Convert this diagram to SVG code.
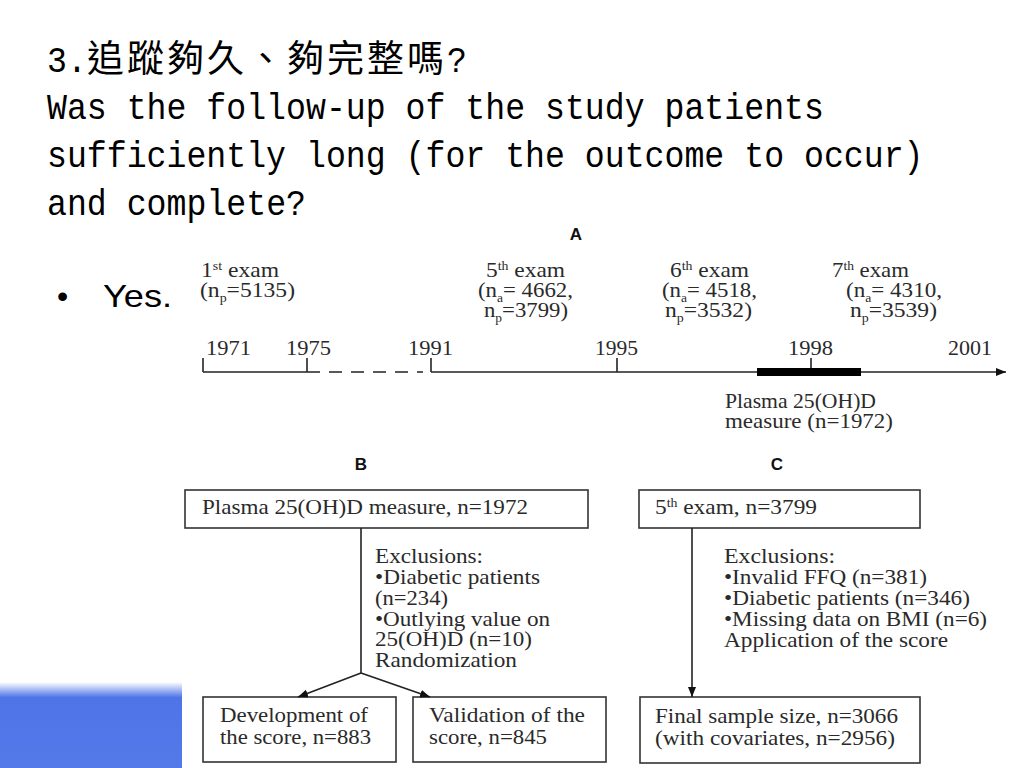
<svg xmlns="http://www.w3.org/2000/svg" width="1024" height="768" viewBox="0 0 1024 768">
<defs>
<linearGradient id="blueFade" x1="0" y1="682" x2="0" y2="768" gradientUnits="userSpaceOnUse">
<stop offset="0" stop-color="#ffffff"/>
<stop offset="0.18" stop-color="#4f74e8"/>
<stop offset="1" stop-color="#5479e8"/>
</linearGradient>
<marker id="arr" viewBox="0 0 10 8" refX="10" refY="4" markerWidth="10" markerHeight="8" markerUnits="userSpaceOnUse" orient="auto">
<path d="M0,0 L10,4 L0,8 Z" fill="#111"/>
</marker>
<style>
.mono{font-family:"Liberation Mono","DejaVu Sans Mono",monospace;font-size:36px;fill:#000}
.cjk{font-family:"Noto Sans CJK TC","Noto Sans CJK SC",sans-serif;font-size:37px;fill:#000}
.fig{font-family:"Liberation Serif","Times New Roman",serif;font-size:22px;fill:#2a2a2a}
.lab{font-family:"Liberation Sans",Arial,sans-serif;font-size:17px;font-weight:bold;fill:#111;text-anchor:middle}
.sup{font-size:13px}
.box{fill:#fff;stroke:#333;stroke-width:1.6}
.ln{stroke:#222;stroke-width:1.6;fill:none}
</style>
</defs>
<rect width="1024" height="768" fill="#fff"/>
<rect id="blue-bar" x="0" y="682" width="182" height="86" fill="url(#blueFade)"/>

<g id="title">
<text class="mono" x="47" y="72" textLength="39.8" lengthAdjust="spacingAndGlyphs">3.</text>
<text class="cjk" x="87" y="72" letter-spacing="3">追蹤夠久、夠完整嗎</text>
<text class="mono" x="447" y="72" textLength="19.9" lengthAdjust="spacingAndGlyphs">?</text>
<text class="mono" x="47" y="119" textLength="776.9" lengthAdjust="spacingAndGlyphs">Was the follow-up of the study patients</text>
<text class="mono" x="47" y="167" textLength="876.5" lengthAdjust="spacingAndGlyphs">sufficiently long (for the outcome to occur)</text>
<text class="mono" x="47" y="215" textLength="259" lengthAdjust="spacingAndGlyphs">and complete?</text>
</g>

<g id="bullet">
<text x="57" y="307" font-family="Liberation Sans, Arial, sans-serif" font-size="32" fill="#000">•</text>
<text x="103" y="307" font-family="Liberation Sans, Arial, sans-serif" font-size="32" fill="#000" textLength="69" lengthAdjust="spacingAndGlyphs">Yes.</text>
</g>

<g id="panel-A">
<text class="lab" x="576" y="240">A</text>
<g id="exam1">
<text class="fig" x="201" y="277" textLength="78" lengthAdjust="spacingAndGlyphs">1<tspan class="sup" dy="-7">st</tspan><tspan dy="7"> exam</tspan></text>
<text class="fig" x="200" y="297" textLength="95" lengthAdjust="spacingAndGlyphs">(n<tspan class="sup" dy="5">p</tspan><tspan dy="-5">=5135)</tspan></text>
</g>
<g id="exam5">
<text class="fig" x="486" y="277" textLength="79" lengthAdjust="spacingAndGlyphs">5<tspan class="sup" dy="-7">th</tspan><tspan dy="7"> exam</tspan></text>
<text class="fig" x="478" y="297" textLength="95" lengthAdjust="spacingAndGlyphs">(n<tspan class="sup" dy="5">a</tspan><tspan dy="-5">= 4662,</tspan></text>
<text class="fig" x="484" y="317" textLength="84" lengthAdjust="spacingAndGlyphs">n<tspan class="sup" dy="5">p</tspan><tspan dy="-5">=3799)</tspan></text>
</g>
<g id="exam6">
<text class="fig" x="670" y="277" textLength="79" lengthAdjust="spacingAndGlyphs">6<tspan class="sup" dy="-7">th</tspan><tspan dy="7"> exam</tspan></text>
<text class="fig" x="662" y="297" textLength="95" lengthAdjust="spacingAndGlyphs">(n<tspan class="sup" dy="5">a</tspan><tspan dy="-5">= 4518,</tspan></text>
<text class="fig" x="665" y="317" textLength="87" lengthAdjust="spacingAndGlyphs">n<tspan class="sup" dy="5">p</tspan><tspan dy="-5">=3532)</tspan></text>
</g>
<g id="exam7">
<text class="fig" x="832" y="277" textLength="77" lengthAdjust="spacingAndGlyphs">7<tspan class="sup" dy="-7">th</tspan><tspan dy="7"> exam</tspan></text>
<text class="fig" x="846" y="297" textLength="96" lengthAdjust="spacingAndGlyphs">(n<tspan class="sup" dy="5">a</tspan><tspan dy="-5">= 4310,</tspan></text>
<text class="fig" x="850" y="317" textLength="87" lengthAdjust="spacingAndGlyphs">n<tspan class="sup" dy="5">p</tspan><tspan dy="-5">=3539)</tspan></text>
</g>
<g id="years">
<text class="fig" x="206" y="355" textLength="45" lengthAdjust="spacingAndGlyphs">1971</text>
<text class="fig" x="286" y="355" textLength="45" lengthAdjust="spacingAndGlyphs">1975</text>
<text class="fig" x="408" y="355" textLength="45" lengthAdjust="spacingAndGlyphs">1991</text>
<text class="fig" x="595" y="355" textLength="43" lengthAdjust="spacingAndGlyphs">1995</text>
<text class="fig" x="788" y="355" textLength="45" lengthAdjust="spacingAndGlyphs">1998</text>
<text class="fig" x="948" y="355" textLength="44" lengthAdjust="spacingAndGlyphs">2001</text>
</g>
<g id="timeline">
<line class="ln" x1="203" y1="372" x2="307" y2="372"/>
<line class="ln" x1="307" y1="372" x2="423" y2="372" stroke-dasharray="13 9"/>
<line class="ln" x1="431" y1="372" x2="1006" y2="372" marker-end="url(#arr)"/>
<line class="ln" x1="203" y1="358" x2="203" y2="372"/>
<line class="ln" x1="307" y1="358" x2="307" y2="372"/>
<line class="ln" x1="431" y1="358" x2="431" y2="372"/>
<line class="ln" x1="617" y1="358" x2="617" y2="372"/>
<line class="ln" x1="811" y1="358" x2="811" y2="372"/>
<rect x="757" y="368" width="104" height="8" fill="#000"/>
</g>
<g id="plasma-label">
<text class="fig" x="725" y="408" textLength="151" lengthAdjust="spacingAndGlyphs">Plasma 25(OH)D</text>
<text class="fig" x="725" y="428" textLength="168" lengthAdjust="spacingAndGlyphs">measure (n=1972)</text>
</g>
</g>

<g id="panel-B">
<text class="lab" x="361" y="470">B</text>
<g id="b-top">
<rect class="box" x="185" y="490" width="403" height="38"/>
<text class="fig" x="202" y="514" textLength="326" lengthAdjust="spacingAndGlyphs">Plasma 25(OH)D measure, n=1972</text>
</g>
<g id="b-exclusions">
<text class="fig" x="375" y="563" textLength="108" lengthAdjust="spacingAndGlyphs">Exclusions:</text>
<text class="fig" x="375" y="584" textLength="165" lengthAdjust="spacingAndGlyphs">•Diabetic patients</text>
<text class="fig" x="375" y="605" textLength="73" lengthAdjust="spacingAndGlyphs">(n=234)</text>
<text class="fig" x="375" y="626" textLength="175" lengthAdjust="spacingAndGlyphs">•Outlying value on</text>
<text class="fig" x="375" y="646" textLength="157" lengthAdjust="spacingAndGlyphs">25(OH)D (n=10)</text>
<text class="fig" x="375" y="667" textLength="142" lengthAdjust="spacingAndGlyphs">Randomization</text>
</g>
<g id="b-dev">
<rect class="box" x="203" y="697" width="193" height="65"/>
<text class="fig" x="220" y="722" textLength="148" lengthAdjust="spacingAndGlyphs">Development of</text>
<text class="fig" x="220" y="744" textLength="151" lengthAdjust="spacingAndGlyphs">the score, n=883</text>
</g>
<g id="b-val">
<rect class="box" x="413" y="697" width="193" height="65"/>
<text class="fig" x="429" y="722" textLength="156" lengthAdjust="spacingAndGlyphs">Validation of the</text>
<text class="fig" x="429" y="744" textLength="118" lengthAdjust="spacingAndGlyphs">score, n=845</text>
</g>
</g>

<g id="panel-C">
<text class="lab" x="777" y="470">C</text>
<g id="c-top">
<rect class="box" x="639" y="490" width="281" height="38"/>
<text class="fig" x="655" y="514" textLength="162" lengthAdjust="spacingAndGlyphs">5<tspan class="sup" dy="-7">th</tspan><tspan dy="7"> exam, n=3799</tspan></text>
</g>
<g id="c-exclusions">
<text class="fig" x="724" y="563" textLength="111" lengthAdjust="spacingAndGlyphs">Exclusions:</text>
<text class="fig" x="724" y="584" textLength="203" lengthAdjust="spacingAndGlyphs">•Invalid FFQ (n=381)</text>
<text class="fig" x="724" y="605" textLength="246" lengthAdjust="spacingAndGlyphs">•Diabetic patients (n=346)</text>
<text class="fig" x="724" y="626" textLength="263" lengthAdjust="spacingAndGlyphs">•Missing data on BMI (n=6)</text>
<text class="fig" x="724" y="647" textLength="224" lengthAdjust="spacingAndGlyphs">Application of the score</text>
</g>
<g id="c-final">
<rect class="box" x="640" y="697" width="280" height="66"/>
<text class="fig" x="655" y="723" textLength="243" lengthAdjust="spacingAndGlyphs">Final sample size, n=3066</text>
<text class="fig" x="655" y="745" textLength="240" lengthAdjust="spacingAndGlyphs">(with covariates, n=2956)</text>
</g>
</g>

<g id="connectors">
<line class="ln" x1="361" y1="528" x2="361" y2="673"/>
<line class="ln" x1="361" y1="673" x2="298" y2="697" marker-end="url(#arr)"/>
<line class="ln" x1="361" y1="673" x2="430" y2="697" marker-end="url(#arr)"/>
<line class="ln" x1="692" y1="528" x2="692" y2="697" marker-end="url(#arr)"/>
</g>
</svg>
